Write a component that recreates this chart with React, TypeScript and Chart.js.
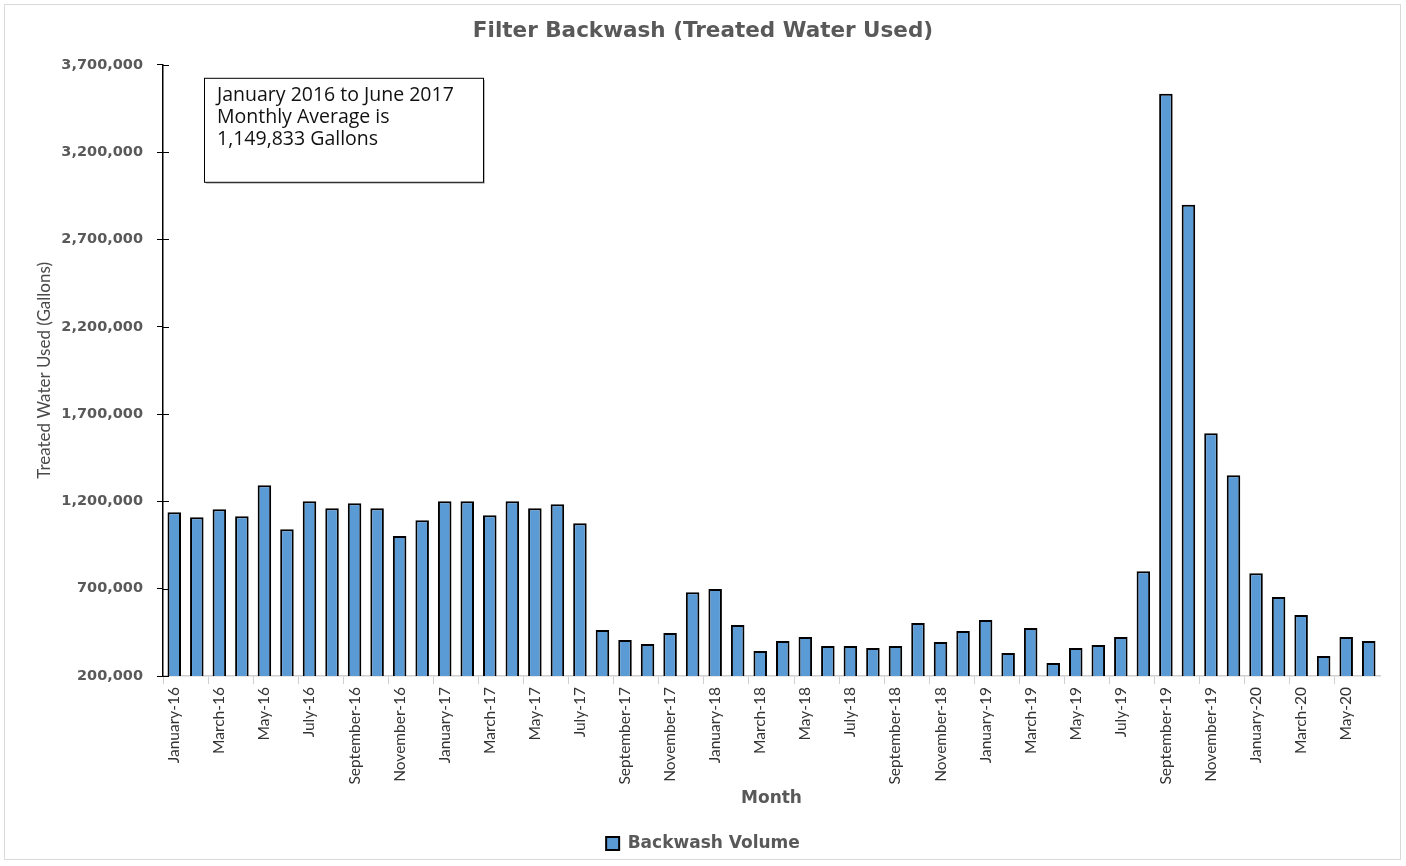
import React, { useEffect, useRef } from "react";
import { Chart, registerables } from "chart.js";

Chart.register(...registerables);

const months = [
  "January-16", "February-16", "March-16", "April-16", "May-16", "June-16",
  "July-16", "August-16", "September-16", "October-16", "November-16", "December-16",
  "January-17", "February-17", "March-17", "April-17", "May-17", "June-17",
  "July-17", "August-17", "September-17", "October-17", "November-17", "December-17",
  "January-18", "February-18", "March-18", "April-18", "May-18", "June-18",
  "July-18", "August-18", "September-18", "October-18", "November-18", "December-18",
  "January-19", "February-19", "March-19", "April-19", "May-19", "June-19",
  "July-19", "August-19", "September-19", "October-19", "November-19", "December-19",
  "January-20", "February-20", "March-20", "April-20", "May-20", "June-20",
];

const backwashVolume = [
  1138000, 1109000, 1155000, 1115000, 1292000, 1041000,
  1201000, 1161000, 1189000, 1161000, 1001000, 1092000,
  1201000, 1201000, 1121000, 1201000, 1161000, 1184000,
  1075000, 463000, 406000, 383000, 446000, 680000,
  698000, 492000, 343000, 400000, 423000, 372000,
  372000, 360000, 372000, 503000, 394000, 457000,
  520000, 332000, 475000, 274000, 360000, 377000,
  423000, 800000, 3534000, 2899000, 1590000, 1350000,
  789000, 652000, 549000, 314000, 423000, 400000,
];

const yMin = 200000;
const yMax = 3700000;
const yStep = 500000;

const noteLines = [
  "January 2016 to June 2017",
  "Monthly Average is",
  "1,149,833 Gallons",
];

const TEXT = "#595959";
const BAR = "#5B9BD5";

const crossTicksPlugin = {
  id: "crossTicks",
  afterDatasetsDraw(chart: any) {
    const y = chart.scales.y;
    const ctx = chart.ctx;
    ctx.save();
    ctx.strokeStyle = "#000";
    ctx.lineWidth = 1;
    y.ticks.forEach((t: any) => {
      const py = Math.round(y.getPixelForValue(t.value)) + 0.5;
      ctx.beginPath();
      ctx.moveTo(y.right, py);
      ctx.lineTo(y.right + 6, py);
      ctx.stroke();
    });
    ctx.restore();
  },
};

const notePlugin = {
  id: "noteBox",
  afterDraw(chart: any) {
    const { ctx, chartArea } = chart;
    const x = chartArea.left + 41;
    const y = chartArea.top + 13;
    const w = 279;
    const h = 104;
    ctx.save();
    ctx.fillStyle = "#fff";
    ctx.fillRect(x, y, w, h);
    ctx.strokeStyle = "#bbb";
    ctx.lineWidth = 1;
    ctx.beginPath();
    ctx.moveTo(x + 2, y + h + 1.5);
    ctx.lineTo(x + w + 1.5, y + h + 1.5);
    ctx.lineTo(x + w + 1.5, y + 2);
    ctx.stroke();
    ctx.strokeStyle = "#000";
    ctx.strokeRect(x + 0.5, y + 0.5, w, h);
    ctx.fillStyle = "#111";
    ctx.font = "19.5px 'Open Sans'";
    ctx.textBaseline = "middle";
    ctx.textAlign = "left";
    noteLines.forEach((line, i) => {
      ctx.fillText(line, x + 13, y + 18 + i * 22);
    });
    ctx.restore();
  },
};

export default function App() {
  const canvasRef = useRef<HTMLCanvasElement | null>(null);

  useEffect(() => {
    if (!canvasRef.current) return;
    const chart = new Chart(canvasRef.current, {
      type: "bar",
      data: {
        labels: months,
        datasets: [
          {
            label: "Backwash Volume",
            data: backwashVolume,
            backgroundColor: BAR,
            borderColor: "#000",
            borderWidth: 2,
            borderSkipped: false,
            barPercentage: 0.6,
            categoryPercentage: 1,
          },
        ],
      },
      options: {
        animation: false,
        responsive: true,
        maintainAspectRatio: false,
        layout: { padding: { left: 26, right: 26, top: 0, bottom: 4 } },
        plugins: {
          title: {
            display: true,
            text: "Filter Backwash (Treated Water Used)",
            color: TEXT,
            font: { family: "'DejaVu Sans'", size: 21.5, weight: "bold" },
            padding: { top: 19, bottom: 20 },
          },
          legend: {
            display: true,
            position: "bottom",
            labels: {
              color: TEXT,
              font: { family: "'DejaVu Sans'", size: 17, weight: "bold" },
              boxWidth: 13,
              boxHeight: 13,
              padding: 10,
            },
          },
          tooltip: { enabled: false },
        },
        scales: {
          x: {
            grid: {
              offset: true,
              drawOnChartArea: false,
              tickLength: 8,
              color: (c: any) => (c.index % 2 === 0 ? "#d0d0d0" : "rgba(0,0,0,0)"),
            },
            border: { color: "#d0d0d0", width: 1.5 },
            ticks: {
              autoSkip: false,
              maxRotation: 90,
              minRotation: 90,
              padding: 3,
              color: "#333333",
              font: { family: "Lato", size: 15.5 },
              callback: (_v: any, i: number) => (i % 2 === 0 ? months[i] : ""),
            },
            title: {
              display: true,
              text: "Month",
              color: TEXT,
              font: { family: "'DejaVu Sans'", size: 17, weight: "bold" },
              padding: { top: 0, bottom: 16 },
            },
            afterFit: (s: any) => {
              s.height = 149;
            },
          },
          y: {
            min: yMin,
            max: yMax,
            ticks: {
              stepSize: yStep,
              padding: 14,
              color: TEXT,
              font: { family: "'DejaVu Sans'", size: 14.5, weight: "bold" },
              callback: (v: any) => Number(v).toLocaleString("en-US"),
            },
            grid: {
              drawOnChartArea: false,
              tickLength: 6,
              color: "#000",
            },
            border: { color: "#000", width: 1.5 },
            title: {
              display: true,
              text: "Treated Water Used (Gallons)",
              color: "#4a4a4a",
              font: { family: "Lato", size: 17 },
              padding: { top: 8, bottom: 0 },
            },
            afterFit: (s: any) => {
              s.width = 137;
            },
          },
        },
      },
      plugins: [crossTicksPlugin, notePlugin],
    });
    return () => chart.destroy();
  }, []);

  return (
    <div
      style={{
        position: "absolute",
        left: 0,
        top: 0,
        width: 1406,
        height: 866,
        background: "#fff",
      }}
    >
      <div
        style={{
          position: "absolute",
          left: 4,
          top: 4,
          width: 1395,
          height: 854,
          border: "1px solid #d9d9d9",
          pointerEvents: "none",
        }}
      />
      <canvas ref={canvasRef} />
    </div>
  );
}
